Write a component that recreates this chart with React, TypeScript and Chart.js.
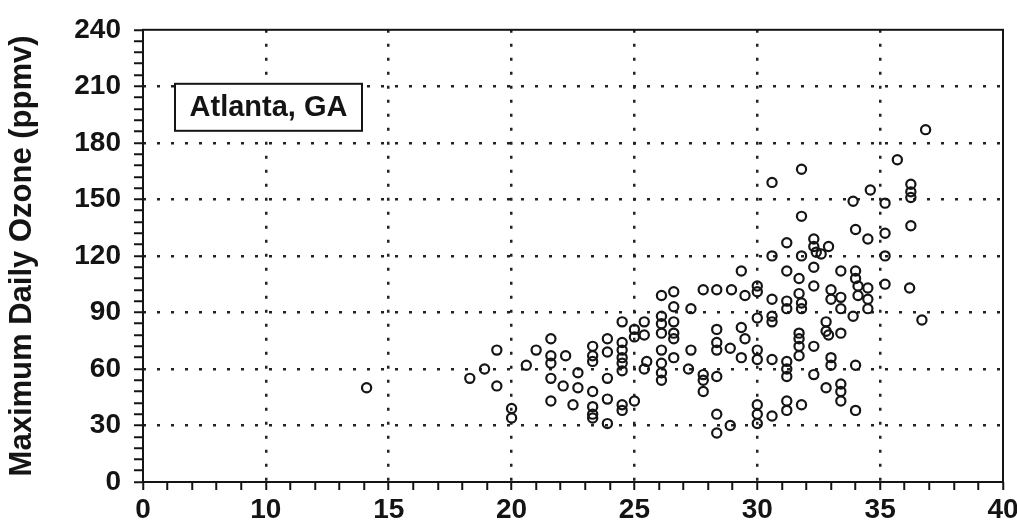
import { useEffect, useRef } from 'react';
import { Chart, registerables } from 'chart.js';

Chart.register(...registerables);

// Daily maximum temperature (°C) — x values
const temperature: number[] = [
  14.1, 18.3, 18.9, 19.4, 19.4, 20.0, 20.0, 20.6, 21.0, 21.6,
  21.6, 22.2, 21.6, 21.6, 22.1, 21.6, 22.5, 22.7, 22.7, 23.3,
  23.3, 23.3, 23.3, 23.3, 23.3, 23.3, 23.9, 23.9, 23.9, 23.9,
  23.9, 24.5, 24.5, 24.5, 24.5, 24.5, 24.5, 24.5, 24.5, 25.0,
  25.0, 25.0, 25.4, 25.4, 25.5, 25.4, 26.1, 26.1, 26.1, 26.1,
  26.1, 26.1, 26.1, 26.1, 26.6, 26.6, 26.6, 26.6, 26.6, 26.6,
  27.3, 27.3, 27.2, 27.8, 28.35, 28.95, 27.8, 27.8, 27.8, 28.35,
  28.35, 28.35, 28.9, 28.35, 28.35, 28.35, 28.9, 29.35, 29.35, 29.35,
  29.5, 30.0, 30.0, 30.6, 31.8, 31.2, 32.3, 32.3, 32.4, 32.9,
  32.6, 31.8, 30.6, 31.8, 31.2, 32.3, 31.7, 33.4, 30.6, 31.2,
  31.2, 31.7, 31.8, 31.8, 32.3, 33.0, 33.0, 33.4, 33.4, 34.1,
  34.1, 34.0, 34.0, 33.9, 30.0, 30.6, 30.6, 29.5, 31.7, 31.7,
  31.7, 31.7, 32.3, 32.8, 32.8, 32.9, 33.4, 30.0, 30.0, 30.6,
  31.2, 31.2, 31.2, 32.3, 33.0, 33.0, 34.0, 32.8, 33.4, 33.4,
  33.4, 31.2, 31.2, 31.8, 30.0, 30.0, 30.0, 30.6, 34.0, 33.9,
  34.0, 36.85, 35.7, 36.25, 36.25, 36.25, 34.6, 35.2, 36.25, 34.5,
  35.2, 35.2, 34.5, 34.5, 34.5, 35.2, 36.2, 36.7,
];

// Maximum daily ozone (ppmv) — y values
const ozone: number[] = [
  50, 55, 60, 70, 51, 39, 34, 62, 70, 76,
  67, 67, 63, 55, 51, 43, 41, 58, 50, 72,
  67, 64, 48, 40, 36, 34, 31, 76, 69, 55,
  44, 85, 74, 70, 66, 63, 59, 41, 38, 81,
  77, 43, 85, 78, 64, 60, 99, 88, 84, 79,
  70, 63, 58, 54, 101, 93, 85, 79, 76, 66,
  92, 70, 60, 102, 102, 102, 57, 54, 48, 81,
  74, 70, 71, 56, 36, 26, 30, 112, 82, 66,
  99, 104, 101, 120, 120, 127, 129, 125, 122, 125,
  121, 166, 159, 141, 112, 114, 108, 112, 97, 96,
  92, 100, 95, 92, 104, 102, 97, 98, 92, 104,
  99, 112, 108, 88, 87, 88, 85, 76, 79, 76,
  72, 67, 72, 85, 80, 78, 79, 70, 65, 65,
  64, 60, 56, 57, 66, 62, 62, 50, 52, 48,
  43, 43, 38, 41, 41, 36, 31, 35, 38, 149,
  134, 187, 171, 158, 154, 151, 155, 148, 136, 129,
  132, 120, 103, 97, 92, 105, 103, 86,
];

const xLabelValues: number[] = [5, 10, 15, 20, 25, 30, 35, 40];
const xLabelTexts: string[] = ['0', '10', '15', '20', '25', '30', '35', '40'];
const yLabelValues: number[] = [0, 30, 60, 90, 120, 150, 180, 210, 240];
const yAxisTitle = 'Maximum Daily Ozone (ppmv)';
const panelLabel = 'Atlanta, GA';

const FONT = '"Liberation Sans", Arial, sans-serif';
const INK = '#141414';

const framePlugin = {
  id: 'frameAndLabel',
  afterDraw(chart: any) {
    const { ctx, chartArea: ca } = chart;
    ctx.save();
    ctx.strokeStyle = INK;
    ctx.lineWidth = 2;
    ctx.setLineDash([]);
    ctx.strokeRect(ca.left, ca.top, ca.right - ca.left, ca.bottom - ca.top);
    // label box
    const bx = ca.left + 32;
    const by = ca.top + 54;
    const bw = 187;
    const bh = 47;
    ctx.fillStyle = '#ffffff';
    ctx.fillRect(bx, by, bw, bh);
    ctx.lineWidth = 2;
    ctx.strokeRect(bx, by, bw, bh);
    ctx.fillStyle = INK;
    ctx.font = `bold 29px ${FONT}`;
    ctx.textAlign = 'center';
    ctx.textBaseline = 'middle';
    ctx.fillText(panelLabel, bx + bw / 2, by + bh / 2 + 1);
    ctx.restore();
  },
};

export default function App() {
  const canvasRef = useRef<HTMLCanvasElement | null>(null);

  useEffect(() => {
    const canvas = canvasRef.current;
    if (!canvas) return;
    const points = temperature.map((t, i) => ({ x: t, y: ozone[i] }));
    const chart = new Chart(canvas, {
      type: 'scatter',
      data: {
        datasets: [
          {
            label: 'Ozone',
            data: points,
            pointStyle: 'circle',
            pointRadius: 4.6,
            pointBorderWidth: 2.2,
            pointBorderColor: '#151515',
            pointBackgroundColor: 'rgba(0,0,0,0)',
          },
        ],
      },
      plugins: [framePlugin],
      options: {
        animation: false,
        responsive: false,
        devicePixelRatio: 1,
        layout: { padding: { top: 26, right: 14, left: 0, bottom: 0 } },
        plugins: {
          legend: { display: false },
          tooltip: { enabled: false },
        },
        scales: {
          x: {
            type: 'linear',
            min: 5,
            max: 40,
            afterFit: (s: any) => {
              s.height = 47;
              s.paddingRight = 14;
              s.paddingLeft = 0;
            },
            border: { display: false, dash: [3, 11] },
            grid: {
              color: (c: any) => {
                const v = c.tick ? c.tick.value : NaN;
                return v % 5 === 0 && v > 5 && v < 40 ? '#222' : 'rgba(0,0,0,0)';
              },
              lineWidth: 2.5,
              tickColor: INK,
              tickWidth: 2,
              tickLength: 8,
            },
            ticks: {
              stepSize: 1,
              autoSkip: false,
              maxRotation: 0,
              padding: 3,
              color: INK,
              font: { family: FONT, size: 28, weight: 'bold' },
              callback: (v: any) => {
                const idx = xLabelValues.indexOf(Number(v));
                return idx >= 0 ? xLabelTexts[idx] : '';
              },
            },
          },
          y: {
            type: 'linear',
            min: 0,
            max: 240,
            afterFit: (s: any) => {
              s.width = 143;
            },
            border: { display: false, dash: [3, 11] },
            grid: {
              color: (c: any) => {
                const v = c.tick ? c.tick.value : NaN;
                return v % 30 === 0 && v > 0 && v < 240 ? '#222' : 'rgba(0,0,0,0)';
              },
              lineWidth: 2.5,
              tickColor: INK,
              tickWidth: 2,
              tickLength: 9,
            },
            ticks: {
              stepSize: 6,
              autoSkip: false,
              padding: 13,
              color: INK,
              font: { family: FONT, size: 28, weight: 'bold' },
              callback: (v: any) => (yLabelValues.includes(Number(v)) ? String(v) : ''),
            },
            title: {
              display: true,
              text: yAxisTitle,
              color: INK,
              font: { family: FONT, size: 31, weight: 'bold' },
              padding: { top: 4, bottom: 0 },
            },
          },
        },
      },
    } as any);
    return () => chart.destroy();
  }, []);

  return (
    <div style={{ position: 'absolute', left: 0, top: 0, width: 1017, height: 529, background: '#fff' }}>
      <canvas ref={canvasRef} width={1017} height={529} style={{ display: 'block' }} />
    </div>
  );
}
